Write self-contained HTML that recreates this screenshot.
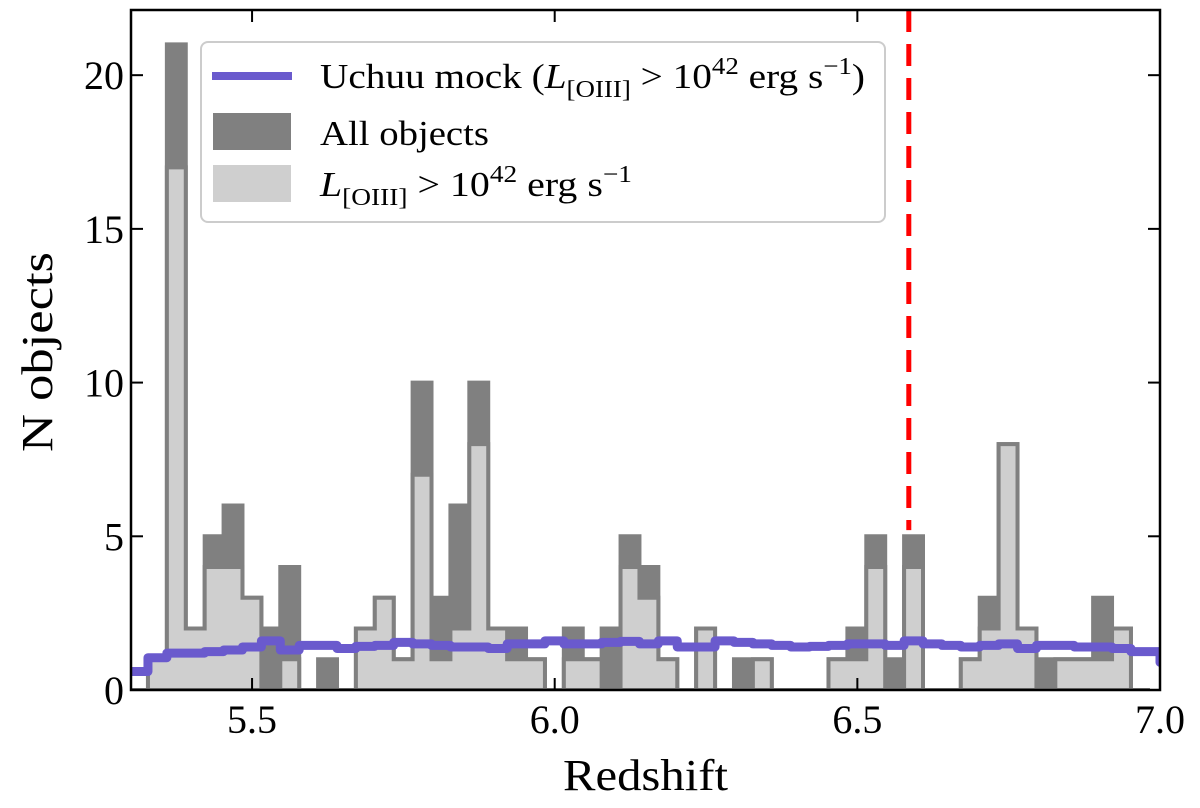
<!DOCTYPE html>
<html><head><meta charset="utf-8"><style>
html,body{margin:0;padding:0;background:#fff;}
svg{display:block;font-family:"Liberation Serif",serif;}
</style></head><body>
<svg id="chart" width="1200" height="808" viewBox="0 0 1200 808">
<g id="plot"></g>
<g id="axes"></g>
<g id="legend">
  <rect x="201" y="42" width="684" height="180" rx="7" fill="#fff" fill-opacity="0.85" stroke="#ccc" stroke-width="2"/>
  <g>
    <rect x="212" y="72" width="80" height="8" fill="#6a5acd"/>
    <text x="320" y="88" font-size="35" textLength="545" lengthAdjust="spacingAndGlyphs">Uchuu mock (<tspan font-style="italic">L</tspan><tspan font-size="24" dy="9">[OIII]</tspan><tspan dy="-9"> &gt; 10</tspan><tspan font-size="24" dy="-14">42</tspan><tspan dy="14"> erg s</tspan><tspan font-size="24" dy="-14">−1</tspan><tspan dy="14">)</tspan></text>
  </g>
  <g>
    <rect x="213" y="113" width="78" height="37" fill="#808080"/>
    <text x="320" y="145" font-size="35" textLength="169" lengthAdjust="spacingAndGlyphs">All objects</text>
  </g>
  <g>
    <rect x="213" y="165" width="78" height="37" fill="#cfcfcf"/>
    <text x="320" y="196" font-size="35" textLength="312" lengthAdjust="spacingAndGlyphs"><tspan font-style="italic">L</tspan><tspan font-size="24" dy="9">[OIII]</tspan><tspan dy="-9"> &gt; 10</tspan><tspan font-size="24" dy="-14">42</tspan><tspan dy="14"> erg s</tspan><tspan font-size="24" dy="-14">−1</tspan></text>
  </g>
</g>
</svg>
<script>
const binStart = 5.2968;
const binWidth = 0.03123;
const allCounts = [0,1,21,2,5,6,3,2,4,0,1,0,2,3,1,10,3,6,10,2,2,1,0,2,1,2,5,4,1,0,2,0,1,1,0,0,0,1,2,5,1,5,0,0,1,3,8,2,1,1,1,3,2,0];
const lumCounts = [0,1,17,2,4,4,3,0,1,0,0,0,2,3,1,7,1,2,8,2,1,1,0,1,1,0,4,3,1,0,2,0,0,1,0,0,0,1,1,4,0,4,0,0,1,2,8,2,0,1,1,1,2,0];
const uchuuVals = [0.6,1.05,1.2,1.2,1.25,1.3,1.4,1.6,1.3,1.45,1.45,1.35,1.42,1.45,1.55,1.5,1.45,1.4,1.4,1.35,1.5,1.5,1.6,1.5,1.5,1.55,1.58,1.5,1.6,1.4,1.4,1.6,1.55,1.5,1.45,1.4,1.42,1.45,1.5,1.5,1.45,1.6,1.5,1.45,1.4,1.45,1.5,1.35,1.45,1.45,1.4,1.4,1.35,1.25];
const uchuuEnd = 0.9;
const refLineZ = 6.585;
const xTicks = [5.5,6.0,6.5,7.0];
const xTickLabels = ["5.5","6.0","6.5","7.0"];
const yTicks = [0,5,10,15,20];

const X0=131,X1=1160,Y0=690,Y1=10,xmin=5.3,xmax=7.0,ymin=0,ymax=22.12;
const xs=v=>X0+(v-xmin)/(xmax-xmin)*(X1-X0);
const ys=v=>Y0-(v-ymin)/(ymax-ymin)*(Y0-Y1);
const NS="http://www.w3.org/2000/svg";
const plot=document.getElementById('plot'), axes=document.getElementById('axes');
function mk(tag,attrs,parent){const e=document.createElementNS(NS,tag);for(const k in attrs)e.setAttribute(k,attrs[k]);parent.appendChild(e);return e;}
const n=allCounts.length, w=binWidth, binEnd=binStart+n*w;
function stepPath(c){let d=`M${xs(binStart)},${ys(0)}`;for(let i=0;i<c.length;i++){d+=` L${xs(binStart+i*w)},${ys(c[i])} L${xs(binStart+(i+1)*w)},${ys(c[i])}`;}d+=` L${xs(binEnd)},${ys(0)} Z`;return d;}
const clip=mk('clipPath',{id:'clp'},plot);mk('rect',{x:X0,y:Y1,width:X1-X0,height:Y0-Y1},clip);
const g=mk('g',{'clip-path':'url(#clp)'},plot);
const pa=mk('path',{d:stepPath(allCounts),fill:'#808080',stroke:'#808080','stroke-width':4},g);


const pl=mk('path',{d:stepPath(lumCounts),fill:'#cfcfcf',stroke:'#808080','stroke-width':4},g);


let ud=`M${xs(binStart)},${ys(uchuuVals[0])}`;
for(let i=0;i<uchuuVals.length;i++){ud+=` L${xs(binStart+i*w)},${ys(uchuuVals[i])} L${xs(binStart+(i+1)*w)},${ys(uchuuVals[i])}`;}
ud+=` L${xs(xmax)},${ys(uchuuVals[uchuuVals.length-1])} L${xs(xmax)},${ys(uchuuEnd)}`;
const pu=mk('path',{d:ud,fill:'none',stroke:'#6a5acd','stroke-width':9,'stroke-linejoin':'round','stroke-linecap':'round'},g);


const rl=mk('line',{x1:xs(refLineZ),x2:xs(refLineZ),y1:Y1,y2:ys(5.2),stroke:'#ff0000','stroke-width':5,'stroke-dasharray':'22,12'},plot);


const fr=mk('rect',{x:X0,y:Y1,width:X1-X0,height:Y0-Y1,fill:'none',stroke:'#000','stroke-width':2.5},axes);


xTicks.forEach((v,i)=>{
  mk('line',{x1:xs(v),x2:xs(v),y1:Y0,y2:Y0-12,stroke:'#000','stroke-width':2},axes);
  mk('line',{x1:xs(v),x2:xs(v),y1:Y1,y2:Y1+12,stroke:'#000','stroke-width':2},axes);
  const t=mk('text',{x:xs(v),y:733,'font-size':40,'text-anchor':'middle'},axes);t.textContent=xTickLabels[i];
  
  
});
yTicks.forEach(v=>{
  mk('line',{x1:X0,x2:X0+12,y1:ys(v),y2:ys(v),stroke:'#000','stroke-width':2},axes);
  mk('line',{x1:X1,x2:X1-12,y1:ys(v),y2:ys(v),stroke:'#000','stroke-width':2},axes);
  const t=mk('text',{x:X0-7,y:ys(v)+14,'font-size':40,'text-anchor':'end'},axes);t.textContent=String(v);
  
  
});
const xt=mk('text',{x:563,y:790,'font-size':44,textLength:165,lengthAdjust:'spacingAndGlyphs'},axes);xt.textContent='Redshift';


const yt=mk('text',{x:0,y:0,'font-size':44,'text-anchor':'middle',textLength:200,lengthAdjust:'spacingAndGlyphs',transform:'translate(52,352) rotate(-90)'},axes);yt.textContent='N objects';


</script>
</body></html>
